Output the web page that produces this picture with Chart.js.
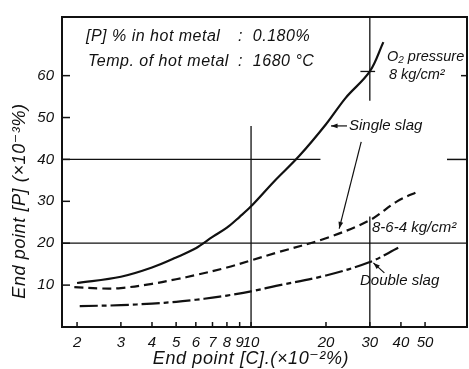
<!DOCTYPE html>
<html>
<head>
<meta charset="utf-8">
<script src="https://cdn.jsdelivr.net/npm/chart.js@4.4.1/dist/chart.umd.min.js"></script>
<style>
html, body { margin: 0; padding: 0; background: #fff; }
</style>
</head>
<body>
<canvas id="chart" width="469" height="369"></canvas>
<script>
// axis ticks
var xTicks = [2, 3, 4, 5, 6, 7, 8, 9, 10, 20, 30, 40, 50];
var yTicks = [10, 20, 30, 40, 50, 60];

// O2 pressure 8 kg/cm2, single slag
var singleX = [2, 3, 4, 5, 6, 7, 8, 9, 10, 12.4, 15.6, 20, 24, 30, 34];
var singleY = [10.5, 12, 14.2, 16.6, 18.8, 21.5, 23.7, 26.3, 28.8, 34.8, 40.8, 48.4, 54.7, 61, 68];

// O2 pressure 8-6-4 kg/cm2, single slag
var stepX = [1.95, 2.5, 3, 4, 5, 6, 8, 10, 12.6, 20, 30, 38.6, 47.5];
var stepY = [9.5, 9.2, 9.3, 10.3, 11.4, 12.4, 14.2, 15.9, 17.7, 21.2, 25.5, 30, 32.5];

// double slag
var doubleX = [2.05, 3, 4, 5, 6, 7, 8, 10, 12.6, 20, 30, 39];
var doubleY = [5, 5.2, 5.6, 6, 6.5, 7, 7.5, 8.5, 9.8, 12.3, 15.5, 18.9];

// hand drawn guide lines on the paper
var guideX = [[1.74, 19], [10, 10], [1.74, 73.7], [30, 30], [30, 30], [27.5, 31.5]];
var guideY = [[40, 40], [48, 0], [20, 20], [74, 54], [26.4, 0], [61, 61]];

function pts(xs, ys) {
	return xs.map(function(v, i){ return {x: v, y: ys[i]}; });
}

var ink = '#111';
var fontIt = '"Liberation Sans", "DejaVu Sans", sans-serif';

var datasets = [];
guideX.forEach(function(g, i){
	datasets.push({
		data: pts(g, guideY[i]),
		borderColor: ink, borderWidth: 1.3, pointRadius: 0, tension: 0
	});
});
datasets.push({ data: pts(singleX, singleY), borderColor: ink, borderWidth: 2.2, pointRadius: 0, tension: 0.35 });
datasets.push({ data: pts(stepX, stepY), borderColor: ink, borderWidth: 2.2, pointRadius: 0, tension: 0.35, borderDash: [9, 5] });
datasets.push({ data: pts(doubleX, doubleY), borderColor: ink, borderWidth: 2.2, pointRadius: 0, tension: 0.35, borderDash: [18, 4, 5, 4] });

function arrow(c, x1, y1, x2, y2) {
	c.beginPath(); c.moveTo(x1, y1); c.lineTo(x2, y2); c.stroke();
	var a = Math.atan2(y2 - y1, x2 - x1), h = 7;
	c.beginPath();
	c.moveTo(x2, y2);
	c.lineTo(x2 - h * Math.cos(a - 0.35), y2 - h * Math.sin(a - 0.35));
	c.lineTo(x2 - h * Math.cos(a + 0.35), y2 - h * Math.sin(a + 0.35));
	c.closePath(); c.fill();
}

var paper = {
	id: 'paper',
	afterDatasetsDraw: function(chart) {
		var c = chart.ctx, a = chart.chartArea, xs = chart.scales.x, ys = chart.scales.y;
		c.save();
		c.strokeStyle = ink; c.fillStyle = ink;
		c.lineWidth = 2;
		c.strokeRect(a.left, a.top, a.right - a.left, a.bottom - a.top);

		// inward ticks
		c.lineWidth = 1.5;
		xTicks.forEach(function(v){
			var px = xs.getPixelForValue(v);
			c.beginPath(); c.moveTo(px, a.bottom); c.lineTo(px, a.bottom - 5); c.stroke();
		});
		yTicks.forEach(function(v){
			var py = ys.getPixelForValue(v);
			c.beginPath(); c.moveTo(a.left, py); c.lineTo(a.left + 8, py); c.stroke();
		});
		// right side ticks
		[[60, 6], [40, 20]].forEach(function(t){
			var py = ys.getPixelForValue(t[0]);
			c.beginPath(); c.moveTo(a.right, py); c.lineTo(a.right - t[1], py); c.stroke();
		});

		// axis titles
		c.font = 'italic 18px ' + fontIt;
		c.letterSpacing = '0.6px';
		c.textAlign = 'center'; c.textBaseline = 'middle';
		c.fillText('End point [C].(×10⁻²%)', 251, 359);
		c.save();
		c.translate(20, 201); c.rotate(-Math.PI / 2);
		c.fillText('End point [P] (×10⁻³%)', 0, 0);
		c.restore();

		// header notes
		c.font = 'italic 16px ' + fontIt;
		c.letterSpacing = '0.5px';
		c.textAlign = 'left'; c.textBaseline = 'alphabetic';
		c.fillText('[P] % in hot metal', 86, 41);
		c.fillText(':  0.180%', 238, 41);
		c.fillText('Temp. of hot metal', 88, 66);
		c.fillText(':  1680 °C', 238, 66);

		// O2 pressure label
		c.font = 'italic 14.5px ' + fontIt;
		c.letterSpacing = '0px';
		c.fillText('O₂ pressure', 387, 61);
		c.fillText('8 kg/cm²', 389, 79);

		// single slag
		c.font = 'italic 15px ' + fontIt;
		c.lineWidth = 1.2;
		var sx = xs.getPixelForValue(20) + 5, sy = ys.getPixelForValue(48);
		arrow(c, sx + 16, sy, sx, sy);
		c.textBaseline = 'middle';
		c.fillText('Single slag', sx + 18, sy);
		var dx = xs.getPixelForValue(22.6), dy = ys.getPixelForValue(23.5);
		arrow(c, dx + 22, sy + 16, dx, dy);

		c.fillText('8-6-4 kg/cm²', 372, 228);

		// double slag
		var bx = xs.getPixelForValue(31), by = ys.getPixelForValue(15.3);
		arrow(c, bx + 11, by + 10, bx, by);
		c.fillText('Double slag', 360, 281);
		c.restore();
	}
};

new Chart(document.getElementById('chart'), {
	type: 'line',
	data: { datasets: datasets },
	plugins: [paper],
	options: {
		responsive: false,
		animation: false,
		devicePixelRatio: 1,
		layout: { padding: { top: 16, right: 2, left: 0, bottom: 0 } },
		plugins: { legend: { display: false }, tooltip: { enabled: false } },
		scales: {
			x: {
				type: 'logarithmic', min: 1.74, max: 73.7,
				grid: { display: false, drawTicks: false },
				border: { display: false },
				afterBuildTicks: function(s){ s.ticks = xTicks.map(function(v){ return {value: v}; }); },
				afterFit: function(s){ s.height = 42; },
				ticks: {
					autoSkip: false, maxRotation: 0, padding: 7, color: ink,
					font: { family: fontIt, size: 15, style: 'italic' },
					callback: function(v){ return String(v); }
				}
			},
			y: {
				type: 'linear', min: 0, max: 74,
				grid: { display: false, drawTicks: false },
				border: { display: false },
				afterBuildTicks: function(s){ s.ticks = yTicks.map(function(v){ return {value: v}; }); },
				afterFit: function(s){ s.width = 62; },
				ticks: {
					padding: 8, color: ink,
					font: { family: fontIt, size: 15, style: 'italic' },
					callback: function(v){ return String(v); }
				}
			}
		}
	}
});
</script>
</body>
</html>
